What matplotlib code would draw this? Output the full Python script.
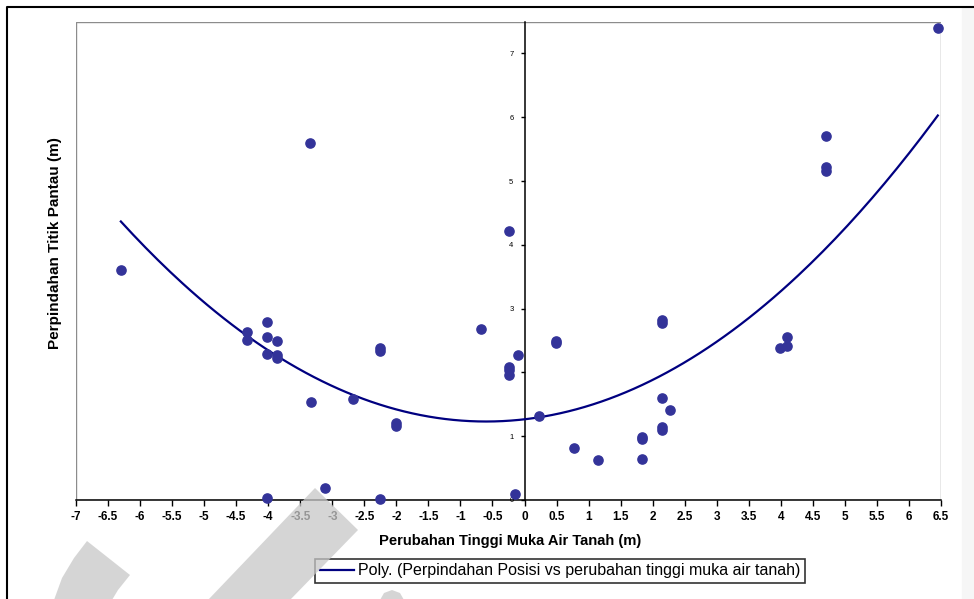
import numpy as np
import matplotlib.pyplot as plt
from matplotlib.patches import Polygon, Rectangle
from matplotlib.lines import Line2D

plt.rcParams['font.family'] = ['Liberation Sans', 'DejaVu Sans']

# perubahan tinggi muka air tanah (m) vs perpindahan titik pantau (m)
muka_air = [-6.30, -3.35, -4.33, -4.33, -4.02, -4.02, -4.02, -3.87, -3.87, -3.87,
            -3.34, -2.68, -2.26, -2.26, -2.01, -2.01, -0.68, -0.245, -0.245, -0.245,
            -0.245, -0.10, 0.22, -4.02, -3.12, -2.26, -0.15, 0.49, 0.49, 2.15,
            2.15, 2.14, 2.27, 2.14, 2.14, 1.83, 1.83, 1.83, 0.77, 1.14,
            4.70, 4.70, 4.70, 4.10, 4.10, 3.98, 6.45]
perpindahan = [3.60, 5.60, 2.63, 2.51, 2.79, 2.55, 2.29, 2.50, 2.27, 2.22,
               1.53, 1.58, 2.38, 2.34, 1.21, 1.16, 2.68, 4.22, 2.09, 2.03,
               1.96, 2.27, 1.31, 0.03, 0.19, 0.02, 0.09, 2.49, 2.46, 2.82,
               2.78, 1.60, 1.41, 1.15, 1.10, 0.99, 0.95, 0.64, 0.81, 0.62,
               5.71, 5.22, 5.15, 2.55, 2.42, 2.39, 7.40]

# Excel polynomial trendline, order 2: a*x^2 + b*x + c
trend_coef = [0.0965, 0.1158, 1.265]

x_ticks = np.arange(-7, 6.51, 0.5)
y_ticks = [0, 1, 2, 3, 4, 5, 6, 7]

W, H = 974, 599
fig = plt.figure(figsize=(W / 100, H / 100), dpi=100)
ax = fig.add_axes([76 / W, 1 - 500 / H, 865 / W, 478.5 / H])

# y axis crosses at x = 0 (set before the ticks, it resets them)
for s in ['top', 'right']:
    ax.spines[s].set_visible(False)
ax.spines['left'].set_position(('data', 0))
ax.spines['left'].set_linewidth(1.1)
ax.spines['bottom'].set_linewidth(1.1)

xs = np.linspace(min(muka_air), max(muka_air), 200)
ax.plot(xs, np.polyval(trend_coef, xs), color='#000080', lw=1.6, zorder=3,
        label='Poly. (Perpindahan Posisi vs perubahan tinggi muka air tanah)')
ax.scatter(muka_air, perpindahan, s=44, color='#333399', zorder=4, clip_on=False)

ax.set_xlim(-7, 6.5)
ax.set_ylim(0, 7.5)
ax.set_xticks(x_ticks)
ax.set_xticklabels([f'{v:g}' for v in x_ticks], fontsize=8.5, fontweight='bold')
ax.set_yticks(y_ticks)
ax.set_yticklabels([str(v) for v in y_ticks], fontsize=5.5)
ax.tick_params(axis='x', direction='out', length=4, width=1, pad=4)
ax.tick_params(axis='y', direction='out', length=3, width=1, pad=5)

# plot area border
ax.add_patch(Rectangle((0, 0), 1, 1, transform=ax.transAxes, fill=False,
                       edgecolor='#8c8c8c', lw=1, zorder=1))

fig.text(510 / W, 1 - 541 / H, 'Perubahan Tinggi Muka Air Tanah (m)',
         fontsize=10.6, fontweight='bold', ha='center', va='center')
fig.text(55 / W, 1 - 243 / H, 'Perpindahan Titik Pantau (m)', rotation=90,
         fontsize=11, fontweight='bold', ha='center', va='center')

leg = fig.legend(loc='center', bbox_to_anchor=(560 / W, 1 - 571 / H), fontsize=11.5,
                 frameon=True, fancybox=False, edgecolor='black', handlelength=2.15,
                 handletextpad=0.2, borderpad=0.3)
leg.get_frame().set_linewidth(1.2)

# chart frame
fig.add_artist(Line2D([7 / W, 7 / W, 1], [0, 1 - 7 / H, 1 - 7 / H],
                      transform=fig.transFigure, color='black', lw=1.5))
fig.add_artist(Rectangle((962 / W, 0), 12 / W, 1 - 8 / H, transform=fig.transFigure,
                         color='#f6f6f6', zorder=0))

# gray watermark strokes
def px(pts):
    return [(x / W, 1 - y / H) for x, y in pts]

wm = dict(transform=fig.transFigure, facecolor='#c8c8c8', edgecolor='none',
          alpha=0.75, zorder=10)
fig.add_artist(Polygon(px([(315, 488), (358, 530), (290, 600), (208, 600)]), **wm))
fig.add_artist(Polygon(px([(87, 541), (130, 575), (118, 590), (112, 600),
                           (54, 600), (62, 578), (74, 558)]), **wm))
fig.add_artist(Polygon(px([(380, 600), (384, 593), (392, 590), (400, 593), (404, 600)]), **wm))

fig.savefig('out.png', dpi=100)
